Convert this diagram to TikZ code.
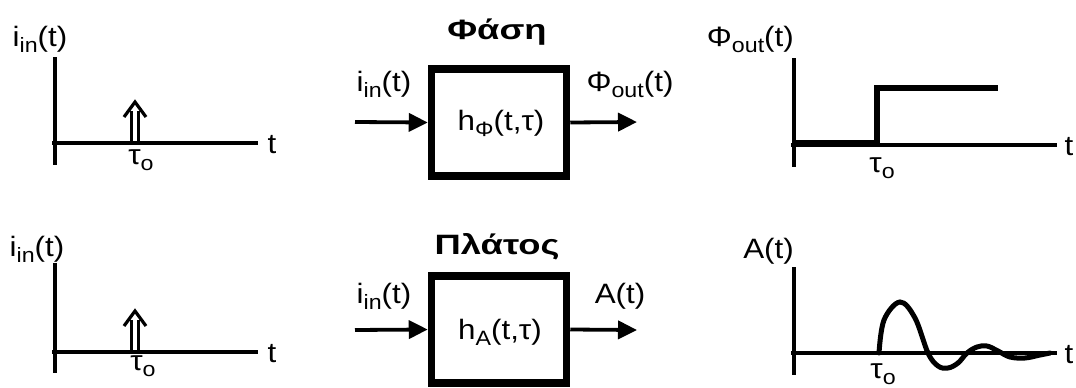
\documentclass[tikz,border=0pt]{standalone}
\usepackage{fontspec}
\setmainfont{Liberation Sans}[FakeStretch=1.12]
\newfontfamily\ttlfont{Liberation Sans}[FakeStretch=1.3]
\usetikzlibrary{arrows.meta}
\newcommand{\sbs}[1]{\raisebox{-0.22em}{\scalebox{0.74}{#1}}}
\begin{document}
\begin{tikzpicture}[x=1pt,y=-1pt,
  axis/.style={line width=3.6pt},
  lab/.style={font=\fontsize{28}{32}\selectfont, inner sep=0pt, anchor=base},
  ttl/.style={font=\ttlfont\bfseries\fontsize{28}{32}\selectfont, inner sep=0pt, anchor=base},
  sysbox/.style={draw, line width=7.5pt, minimum width=135pt, minimum height=107pt, inner sep=0pt},
  sig/.style={line width=3.8pt, -{Triangle[length=19pt,width=18pt]}},
  resp/.style={line width=6pt, miter limit=10},
  wave/.style={line width=5pt, line cap=round},
  impulse/.pic={
    \draw[line width=3pt] (-3.4,0) -- (-3.4,-32);
    \draw[line width=3pt] (3.4,0) -- (3.4,-32);
    \draw[line width=3.2pt, line join=miter] (-11,-26) -- (0,-41) -- (11,-26);
  }
]
\useasboundingbox (0,0) rectangle (1076,388);

% ---------- top-left: input impulse ----------
\draw[axis] (55,57) -- (55,165);
\draw[axis] (52,143) -- (258,143);
\node[lab] (inA) at (40,46) {i\sbs{in}(t)};
\node[lab] (tA) at (272,153) {t};
\pic at (135,143) {impulse};
\node[lab] (tauA) at (141,164) {τ\sbs{o}};

% ---------- bottom-left: input impulse ----------
\draw[axis] (55,263) -- (55,373);
\draw[axis] (52,352) -- (258,352);
\node[lab] (inB) at (37,256) {i\sbs{in}(t)};
\node[lab] (tB) at (272,362) {t};
\pic at (135,352) {impulse};
\node[lab] (tauB) at (143,370) {τ\sbs{o}};

% ---------- top-middle: phase system ----------
\node[ttl] (ttlA) at (497,39) {Φάση};
\node[sysbox] (boxA) at (499,122.5) {};
\node[lab] (hA) at (501,130) {h\sbs{Φ}(t,τ)};
\coordinate (srcA) at (355,122);
\coordinate (dstA) at (637,122);
\draw[sig] (srcA) -- (boxA.west);
\draw[sig] (boxA.east) -- (dstA);
\node[lab] (inlA) at (384,91) {i\sbs{in}(t)};
\node[lab] (outlA) at (630,91) {Φ\sbs{out}(t)};

% ---------- bottom-middle: amplitude system ----------
\node[ttl] (ttlB) at (497,254) {Πλάτος};
\node[sysbox] (boxB) at (499,329.5) {};
\node[lab] (hB) at (500,339) {h\sbs{A}(t,τ)};
\coordinate (srcB) at (355,330);
\coordinate (dstB) at (637,330);
\draw[sig] (srcB) -- (boxB.west);
\draw[sig] (boxB.east) -- (dstB);
\node[lab] (inlB) at (384,303) {i\sbs{in}(t)};
\node[lab] (outlB) at (620,303) {A(t)};

% ---------- top-right: phase response ----------
\draw[axis] (794,58) -- (794,167);
\draw[axis] (791,145) -- (1057,145);
\node[lab, anchor=base east] (phiC) at (794,46) {Φ\sbs{out}(t)};
\node[lab] (tC) at (1069,155) {t};
\draw[resp] (794,143) -- (877,143) -- (877,88) -- (998,88);
\node[lab] (tauC) at (882,172) {τ\sbs{o}};

% ---------- bottom-right: amplitude response ----------
\draw[axis] (794,267) -- (794,375);
\draw[axis] (791,353) -- (1057,353);
\node[lab, anchor=base east] (aD) at (794,258) {A(t)};
\node[lab] (tD) at (1069,363) {t};
\draw[wave] plot[smooth, tension=0.6] coordinates {
  (879,353) (884,320) (900,302) (915,318) (928,353) (938,366) (948,368)
  (958,363) (967,353) (977,347) (987,346) (998,351) (1010,357) (1025,358)
  (1040,355) (1050,353)};
\node[lab] (tauD) at (883,378) {τ\sbs{o}};
\end{tikzpicture}
\end{document}
